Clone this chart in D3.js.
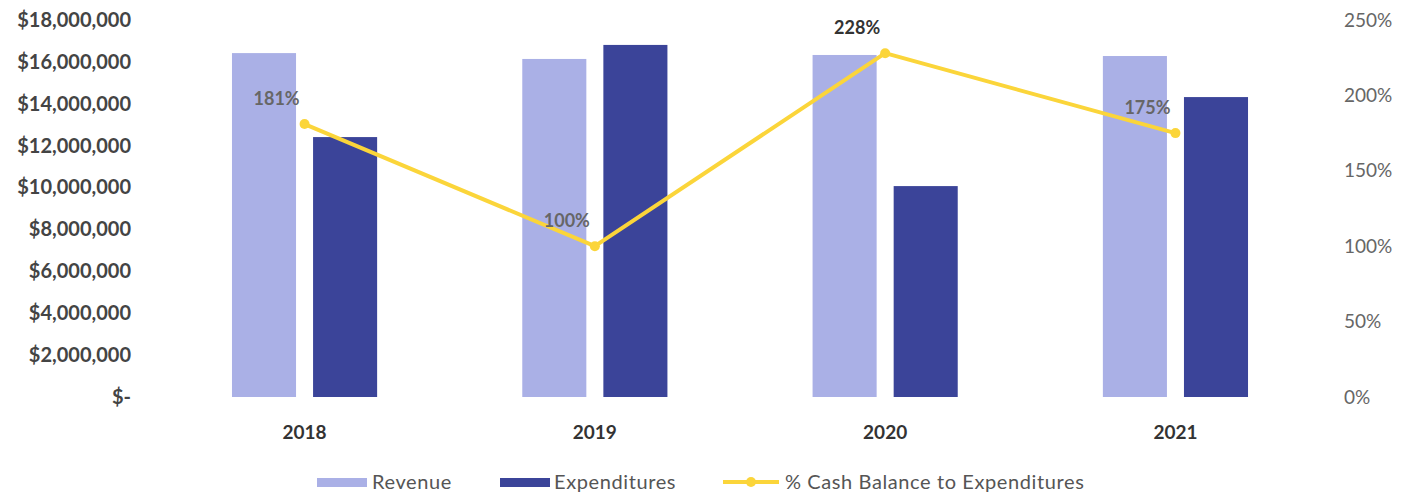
<!DOCTYPE html>
<html>
<head>
<meta charset="utf-8">
<script src="https://cdn.jsdelivr.net/npm/d3@7"></script>
<style>
  html, body { margin: 0; padding: 0; background: #fff; }
  svg { display: block; font-family: Lato, "Open Sans", sans-serif; }
</style>
</head>
<body>
<svg id="chart" width="1412" height="494"></svg>
<script>
// Fiscal years shown on the x axis
const years = ["2018", "2019", "2020", "2021"];
// Annual revenue and expenditures (USD)
const revenue = [16420000, 16140000, 16330000, 16280000];
const expenditures = [12410000, 16810000, 10070000, 14320000];
// Cash balance as a share of expenditures
const cashRatio = [1.81, 1.00, 2.28, 1.75];
// Axis tick values
const moneyTicks = [0, 2e6, 4e6, 6e6, 8e6, 10e6, 12e6, 14e6, 16e6, 18e6];
const pctTicks = [0, 0.5, 1.0, 1.5, 2.0, 2.5];
const seriesNames = ["Revenue", "Expenditures", "% Cash Balance to Expenditures"];

const colors = { rev: "#aab0e6", exp: "#3b4499", line: "#fbd53a" };

const svg = d3.select("#chart");

const x = d3.scaleBand().domain(years).range([159.4, 1320.6])
  .paddingInner(0.5).paddingOuter(0.25);
const x1 = d3.scaleBand().domain(["rev", "exp"]).range([0, x.bandwidth()]).paddingInner(0.21);
const y = d3.scaleLinear().domain([0, 18e6]).range([397, 20]);
const yR = d3.scaleLinear().domain([0, 2.5]).range([397, 20]);

const moneyFmt = v => v === 0 ? "$-" : "$" + d3.format(",")(v);

// Left axis (currency)
const leftAxis = svg.append("g").attr("transform", "translate(131,0)")
  .call(d3.axisLeft(y).tickValues(moneyTicks).tickFormat(moneyFmt).tickSize(0).tickPadding(0));
leftAxis.select(".domain").remove();
leftAxis.selectAll("text")
  .attr("fill", "#444").attr("font-size", 20).attr("font-weight", "bold")
  .attr("font-family", "Lato, sans-serif");

// Right axis (percent)
const rightAxis = svg.append("g").attr("transform", "translate(1344,0)")
  .call(d3.axisRight(yR).tickValues(pctTicks).tickFormat(d3.format(".0%")).tickSize(0).tickPadding(0));
rightAxis.select(".domain").remove();
rightAxis.selectAll("text")
  .attr("fill", "#666").attr("font-size", 19)
  .attr("font-family", "Lato, sans-serif");

// Category axis
const bottomAxis = svg.append("g").attr("transform", "translate(0,397)")
  .call(d3.axisBottom(x).tickSize(0).tickPadding(29));
bottomAxis.select(".domain").remove();
bottomAxis.selectAll("text")
  .attr("fill", "#333").attr("font-size", 19).attr("font-weight", "bold")
  .attr("font-family", "Lato, sans-serif");

// Bars
const groups = svg.append("g").selectAll("g").data(years).join("g")
  .attr("transform", d => `translate(${x(d)},0)`);

groups.append("rect")
  .attr("x", x1("rev")).attr("width", x1.bandwidth())
  .attr("y", (d, i) => y(revenue[i]))
  .attr("height", (d, i) => y(0) - y(revenue[i]))
  .attr("fill", colors.rev);

groups.append("rect")
  .attr("x", x1("exp")).attr("width", x1.bandwidth())
  .attr("y", (d, i) => y(expenditures[i]))
  .attr("height", (d, i) => y(0) - y(expenditures[i]))
  .attr("fill", colors.exp);

// Ratio line
const cx = d => x(d) + x.bandwidth() / 2;
const line = d3.line().x((d, i) => cx(years[i])).y(d => yR(d));
svg.append("path").datum(cashRatio)
  .attr("d", line).attr("fill", "none")
  .attr("stroke", colors.line).attr("stroke-width", 4).attr("stroke-linejoin", "round");

svg.append("g").selectAll("circle").data(cashRatio).join("circle")
  .attr("cx", (d, i) => cx(years[i])).attr("cy", d => yR(d))
  .attr("r", 5).attr("fill", colors.line);

// Data labels for the ratio
svg.append("g").selectAll("text").data(cashRatio).join("text")
  .attr("x", (d, i) => cx(years[i]) - 28)
  .attr("y", d => yR(d) - 19)
  .attr("text-anchor", "middle")
  .attr("font-size", 18).attr("font-weight", "bold")
  .attr("fill", d => d > 2 ? "#333" : "#666")
  .text(d => d3.format(".0%")(d));

// Legend
const legend = svg.append("g").attr("font-size", 20).attr("letter-spacing", "0.6px");
const lg = [
  { name: seriesNames[0], x: 317, type: "rect", color: colors.rev },
  { name: seriesNames[1], x: 500, type: "rect", color: colors.exp },
  { name: seriesNames[2], x: 723, type: "line", color: colors.line }
];
lg.forEach(item => {
  const g = legend.append("g").attr("transform", `translate(${item.x},482)`);
  if (item.type === "rect") {
    g.append("rect").attr("x", 0).attr("y", -4).attr("width", 50).attr("height", 9).attr("fill", item.color);
    g.append("text").attr("x", item.x === 317 ? 55 : 54).attr("dy", "0.35em").attr("fill", "#555").text(item.name);
  } else {
    g.append("line").attr("x1", 0).attr("x2", 56).attr("stroke", item.color).attr("stroke-width", 4);
    g.append("circle").attr("cx", 28).attr("r", 5).attr("fill", item.color);
    g.append("text").attr("x", 62).attr("dy", "0.35em").attr("fill", "#555").text(item.name);
  }
});
</script>
</body>
</html>
